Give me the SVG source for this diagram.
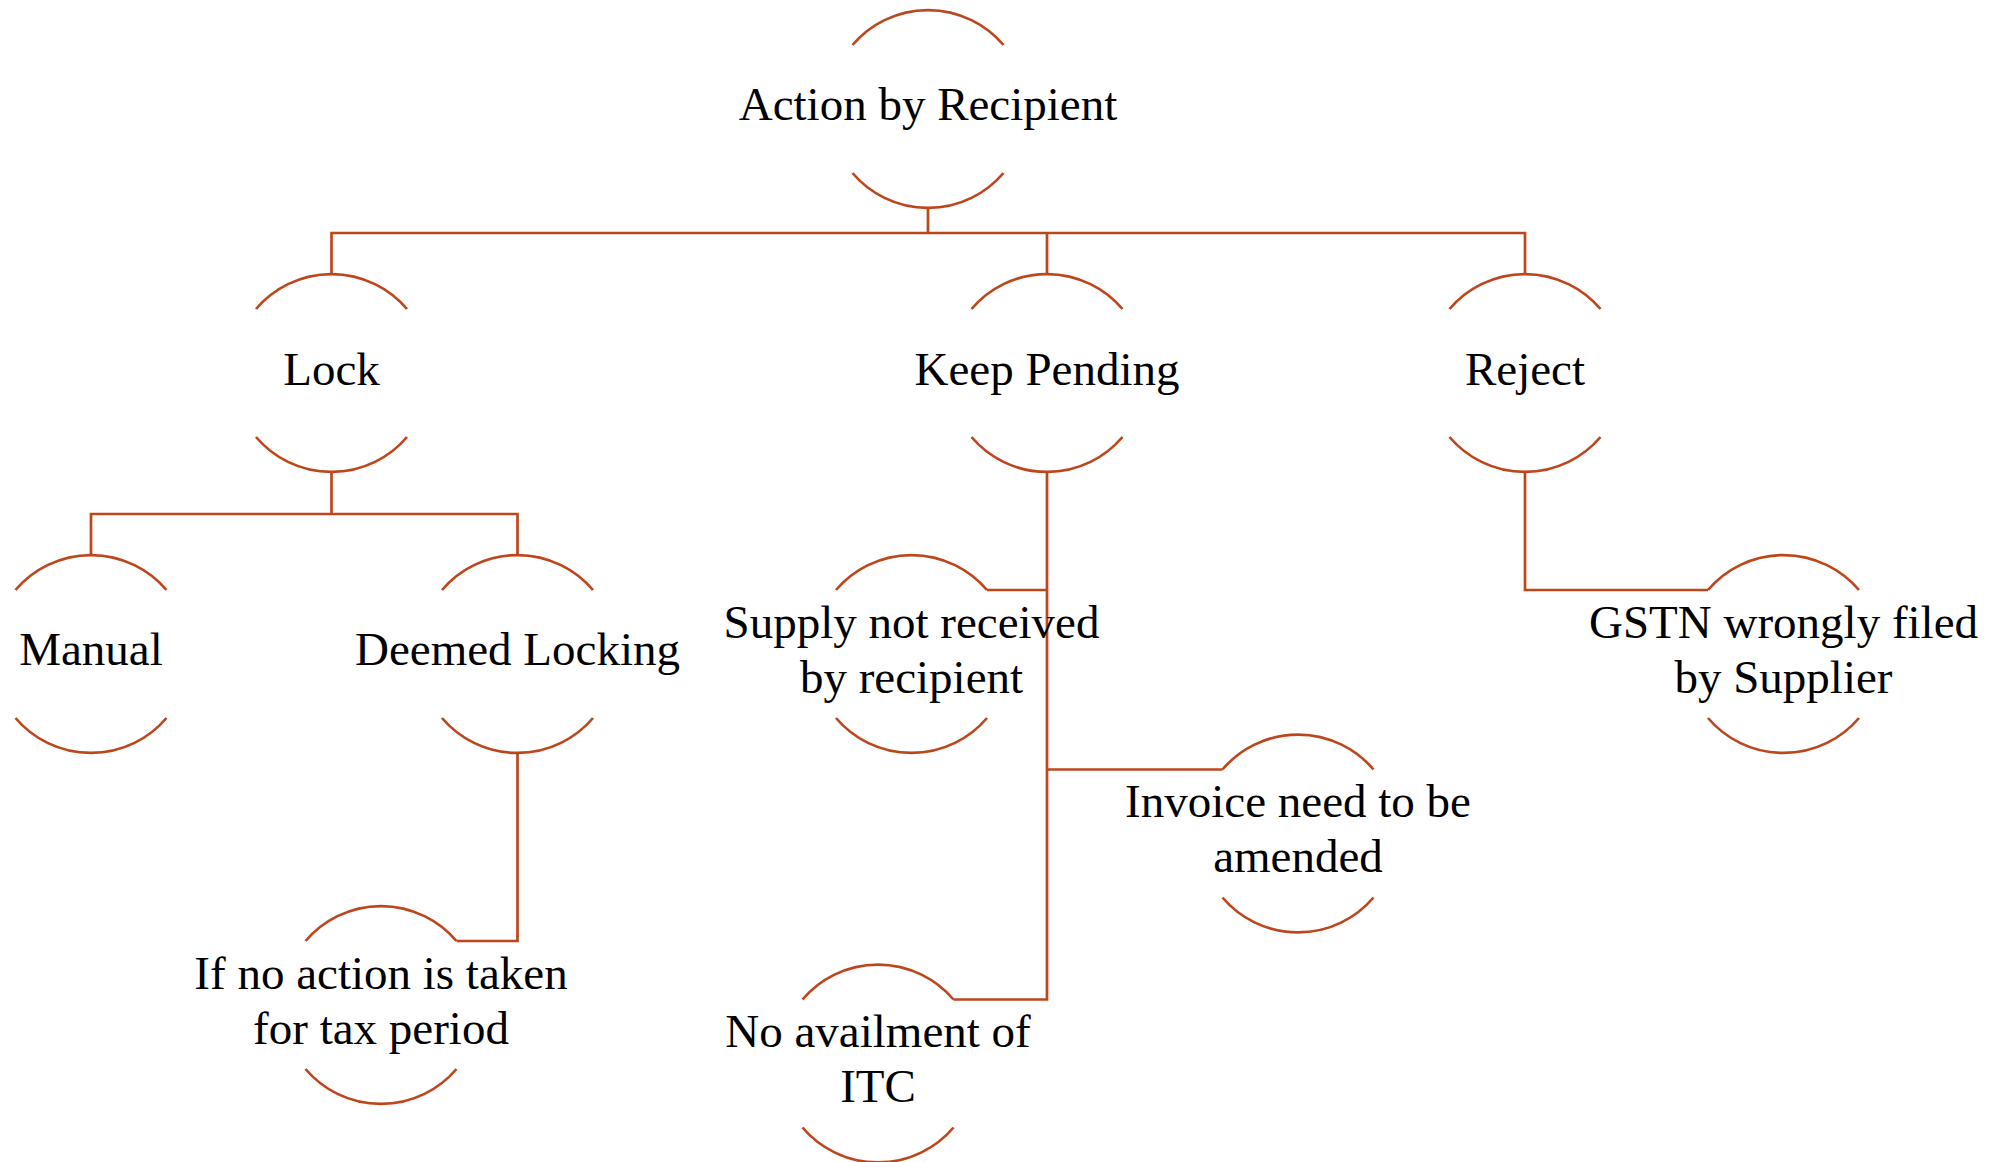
<svg xmlns="http://www.w3.org/2000/svg" width="1996" height="1162" viewBox="0 0 1996 1162">
<style>
.arc{fill:none;stroke:#BE461C;stroke-width:2.7}
.con{fill:none;stroke:#BE461C;stroke-width:2.7}
.t{font-family:"Liberation Serif","Times New Roman",serif;font-size:47px;fill:#000;text-anchor:middle}
</style>
<defs>
<path id="shape" d="M -75.5 -64 A 99 99 0 0 1 75.5 -64 M -75.5 64 A 99 99 0 0 0 75.5 64"/>
</defs>
<rect width="1996" height="1162" fill="#fff"/>
<g id="connectors" class="con">
<path d="M928 208 V233"/>
<path d="M331.5 274 V233 H1525 V274"/>
<path d="M1047 233 V274"/>
<path d="M331.5 472 V514"/>
<path d="M91 555 V514 H517.5 V555"/>
<path d="M517.5 753 V941 H456.5"/>
<path d="M1047 472 V999.5 H953.5"/>
<path d="M1047 590 H987"/>
<path d="M1047 769.5 H1222.5"/>
<path d="M1525 472 V590 H1708"/>
</g>
<g id="root" transform="translate(928,109)"><use href="#shape" class="arc"/><text class="t" x="0" y="11">Action by Recipient</text></g>
<g id="lock" transform="translate(331.5,373)"><use href="#shape" class="arc"/><text class="t" x="0" y="12">Lock</text></g>
<g id="keep-pending" transform="translate(1047,373)"><use href="#shape" class="arc"/><text class="t" x="0" y="12">Keep Pending</text></g>
<g id="reject" transform="translate(1525,373)"><use href="#shape" class="arc"/><text class="t" x="0" y="12">Reject</text></g>
<g id="manual" transform="translate(91,654)"><use href="#shape" class="arc"/><text class="t" x="0" y="11">Manual</text></g>
<g id="deemed-locking" transform="translate(517.5,654)"><use href="#shape" class="arc"/><text class="t" x="0" y="11">Deemed Locking</text></g>
<g id="if-no-action" transform="translate(381,1005)"><use href="#shape" class="arc"/><text class="t" x="0" y="-16.5">If no action is taken</text><text class="t" x="0" y="38.5">for tax period</text></g>
<g id="supply-not-received" transform="translate(911.5,654)"><use href="#shape" class="arc"/><text class="t" x="0" y="-16.5">Supply not received</text><text class="t" x="0" y="38.5">by recipient</text></g>
<g id="invoice-amended" transform="translate(1298,833.5)"><use href="#shape" class="arc"/><text class="t" x="0" y="-16.5">Invoice need to be</text><text class="t" x="0" y="38.5">amended</text></g>
<g id="no-availment" transform="translate(878,1063.5)"><use href="#shape" class="arc"/><text class="t" x="0" y="-16.5">No availment of</text><text class="t" x="0" y="38.5">ITC</text></g>
<g id="gstn" transform="translate(1783.5,654)"><use href="#shape" class="arc"/><text class="t" x="0" y="-16.5">GSTN wrongly filed</text><text class="t" x="0" y="38.5">by Supplier</text></g>
</svg>
